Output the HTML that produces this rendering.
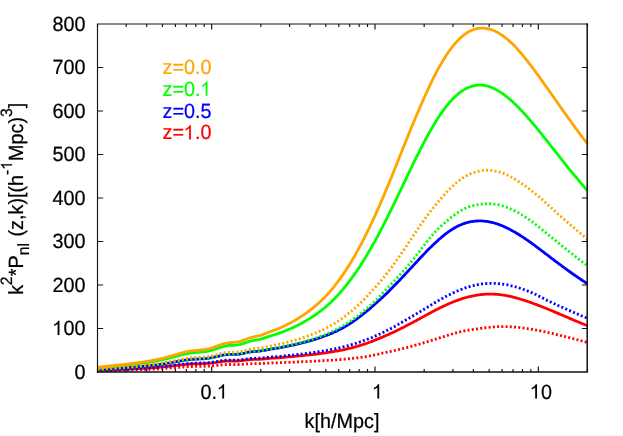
<!DOCTYPE html>
<html><head><meta charset="utf-8"><title>plot</title>
<style>html,body{margin:0;padding:0;background:#fff;overflow:hidden}svg{display:block;will-change:transform}text{text-rendering:geometricPrecision}</style>
</head><body>
<svg width="623" height="436" viewBox="0 0 623 436">
<rect width="100%" height="100%" fill="#fff"/>
<g fill="none" stroke-linejoin="round">
<path d="M97.50,370.50 L98.73,370.45 L99.96,370.40 L101.18,370.36 L102.41,370.31 L103.64,370.26 L104.87,370.21 L106.10,370.16 L107.32,370.11 L108.55,370.06 L109.78,370.01 L111.01,369.96 L112.24,369.91 L113.46,369.85 L114.69,369.80 L115.92,369.75 L117.15,369.69 L118.38,369.64 L119.61,369.58 L120.83,369.53 L122.06,369.47 L123.29,369.41 L124.52,369.36 L125.75,369.30 L126.97,369.24 L128.20,369.19 L129.43,369.13 L130.66,369.07 L131.89,369.01 L133.11,368.95 L134.34,368.88 L135.57,368.82 L136.80,368.76 L138.03,368.69 L139.25,368.63 L140.48,368.56 L141.71,368.49 L142.94,368.42 L144.17,368.35 L145.39,368.27 L146.62,368.20 L147.85,368.12 L149.08,368.04 L150.31,367.96 L151.54,367.87 L152.76,367.78 L153.99,367.69 L155.22,367.60 L156.45,367.50 L157.68,367.40 L158.90,367.30 L160.13,367.19 L161.36,367.08 L162.59,366.96 L163.82,366.85 L165.04,366.72 L166.27,366.60 L167.50,366.47 L168.73,366.34 L169.96,366.20 L171.18,366.06 L172.41,365.92 L173.64,365.78 L174.87,365.64 L176.10,365.49 L177.32,365.35 L178.55,365.21 L179.78,365.07 L181.01,364.94 L182.24,364.81 L183.46,364.68 L184.69,364.56 L185.92,364.45 L187.15,364.34 L188.38,364.25 L189.61,364.16 L190.83,364.09 L192.06,364.02 L193.29,363.96 L194.52,363.91 L195.75,363.86 L196.97,363.83 L198.20,363.79 L199.43,363.76 L200.66,363.72 L201.89,363.69 L203.11,363.65 L204.34,363.60 L205.57,363.53 L206.80,363.46 L208.03,363.37 L209.25,363.27 L210.48,363.15 L211.71,363.02 L212.94,362.86 L214.17,362.70 L215.39,362.52 L216.62,362.33 L217.85,362.14 L219.08,361.95 L220.31,361.77 L221.54,361.59 L222.76,361.43 L223.99,361.30 L225.22,361.18 L226.45,361.10 L227.68,361.04 L228.90,361.00 L230.13,360.99 L231.36,361.00 L232.59,361.01 L233.82,361.03 L235.04,361.03 L236.27,361.02 L237.50,360.99 L238.73,360.93 L239.96,360.84 L241.18,360.72 L242.41,360.58 L243.64,360.43 L244.87,360.26 L246.10,360.09 L247.32,359.93 L248.55,359.79 L249.78,359.66 L251.01,359.56 L252.24,359.49 L253.46,359.44 L254.69,359.41 L255.92,359.38 L257.15,359.35 L258.38,359.32 L259.61,359.26 L260.83,359.19 L262.06,359.10 L263.29,358.99 L264.52,358.87 L265.75,358.75 L266.97,358.62 L268.20,358.50 L269.43,358.39 L270.66,358.29 L271.89,358.21 L273.11,358.13 L274.34,358.05 L275.57,357.98 L276.80,357.91 L278.03,357.83 L279.25,357.74 L280.48,357.64 L281.71,357.53 L282.94,357.41 L284.17,357.29 L285.39,357.17 L286.62,357.06 L287.85,356.96 L289.08,356.86 L290.31,356.76 L291.54,356.67 L292.76,356.56 L293.99,356.46 L295.22,356.34 L296.45,356.22 L297.68,356.09 L298.90,355.96 L300.13,355.83 L301.36,355.71 L302.59,355.59 L303.82,355.46 L305.04,355.34 L306.27,355.21 L307.50,355.08 L308.73,354.95 L309.96,354.81 L311.18,354.66 L312.41,354.52 L313.64,354.38 L314.87,354.24 L316.10,354.10 L317.32,353.95 L318.55,353.79 L319.78,353.63 L321.01,353.47 L322.24,353.30 L323.46,353.14 L324.69,352.97 L325.92,352.79 L327.15,352.61 L328.38,352.43 L329.61,352.24 L330.83,352.04 L332.06,351.85 L333.29,351.65 L334.52,351.44 L335.75,351.23 L336.97,351.00 L338.20,350.77 L339.43,350.53 L340.66,350.29 L341.89,350.04 L343.11,349.79 L344.34,349.53 L345.57,349.26 L346.80,348.99 L348.03,348.71 L349.25,348.43 L350.48,348.14 L351.71,347.83 L352.94,347.52 L354.17,347.20 L355.39,346.86 L356.62,346.51 L357.85,346.16 L359.08,345.79 L360.31,345.41 L361.54,345.03 L362.76,344.63 L363.99,344.22 L365.22,343.81 L366.45,343.38 L367.68,342.95 L368.90,342.50 L370.13,342.05 L371.36,341.59 L372.59,341.12 L373.82,340.65 L375.04,340.16 L376.27,339.67 L377.50,339.17 L378.73,338.67 L379.96,338.16 L381.18,337.64 L382.41,337.12 L383.64,336.59 L384.87,336.06 L386.10,335.52 L387.32,334.98 L388.55,334.43 L389.78,333.88 L391.01,333.32 L392.24,332.76 L393.46,332.19 L394.69,331.61 L395.92,331.02 L397.15,330.43 L398.38,329.83 L399.61,329.23 L400.83,328.62 L402.06,328.00 L403.29,327.38 L404.52,326.75 L405.75,326.12 L406.97,325.48 L408.20,324.84 L409.43,324.19 L410.66,323.54 L411.89,322.88 L413.11,322.23 L414.34,321.57 L415.57,320.90 L416.80,320.24 L418.03,319.57 L419.25,318.90 L420.48,318.23 L421.71,317.56 L422.94,316.89 L424.17,316.22 L425.39,315.55 L426.62,314.89 L427.85,314.22 L429.08,313.56 L430.31,312.90 L431.54,312.24 L432.76,311.59 L433.99,310.95 L435.22,310.31 L436.45,309.68 L437.68,309.05 L438.90,308.44 L440.13,307.83 L441.36,307.23 L442.59,306.63 L443.82,306.05 L445.04,305.48 L446.27,304.91 L447.50,304.36 L448.73,303.82 L449.96,303.29 L451.18,302.77 L452.41,302.26 L453.64,301.76 L454.87,301.28 L456.10,300.81 L457.32,300.36 L458.55,299.91 L459.78,299.49 L461.01,299.07 L462.24,298.68 L463.46,298.29 L464.69,297.92 L465.92,297.57 L467.15,297.24 L468.38,296.92 L469.61,296.61 L470.83,296.32 L472.06,296.05 L473.29,295.80 L474.52,295.56 L475.75,295.35 L476.97,295.14 L478.20,294.96 L479.43,294.79 L480.66,294.64 L481.89,294.51 L483.11,294.39 L484.34,294.29 L485.57,294.21 L486.80,294.15 L488.03,294.11 L489.25,294.09 L490.48,294.09 L491.71,294.10 L492.94,294.13 L494.17,294.19 L495.39,294.26 L496.62,294.34 L497.85,294.45 L499.08,294.57 L500.31,294.71 L501.54,294.87 L502.76,295.04 L503.99,295.23 L505.22,295.43 L506.45,295.65 L507.68,295.89 L508.90,296.14 L510.13,296.40 L511.36,296.68 L512.59,296.97 L513.82,297.27 L515.04,297.59 L516.27,297.91 L517.50,298.25 L518.73,298.60 L519.96,298.97 L521.18,299.34 L522.41,299.72 L523.64,300.11 L524.87,300.51 L526.10,300.92 L527.32,301.33 L528.55,301.76 L529.78,302.19 L531.01,302.62 L532.24,303.07 L533.46,303.52 L534.69,303.97 L535.92,304.43 L537.15,304.90 L538.38,305.37 L539.61,305.84 L540.83,306.32 L542.06,306.81 L543.29,307.30 L544.52,307.79 L545.75,308.28 L546.97,308.78 L548.20,309.28 L549.43,309.79 L550.66,310.30 L551.89,310.81 L553.11,311.32 L554.34,311.84 L555.57,312.35 L556.80,312.87 L558.03,313.39 L559.25,313.91 L560.48,314.44 L561.71,314.96 L562.94,315.48 L564.17,316.01 L565.39,316.53 L566.62,317.05 L567.85,317.58 L569.08,318.10 L570.31,318.62 L571.54,319.15 L572.76,319.67 L573.99,320.19 L575.22,320.70 L576.45,321.22 L577.68,321.74 L578.90,322.25 L580.13,322.76 L581.36,323.27 L582.59,323.78 L583.82,324.29 L585.04,324.79 L586.27,325.29 L587.50,325.79" stroke="#ff0000" stroke-width="2.8"/>
<path d="M97.50,370.97 L98.73,370.94 L99.96,370.91 L101.18,370.88 L102.41,370.85 L103.64,370.81 L104.87,370.78 L106.10,370.75 L107.32,370.71 L108.55,370.68 L109.78,370.64 L111.01,370.61 L112.24,370.57 L113.46,370.54 L114.69,370.50 L115.92,370.46 L117.15,370.43 L118.38,370.39 L119.61,370.35 L120.83,370.31 L122.06,370.27 L123.29,370.24 L124.52,370.20 L125.75,370.16 L126.97,370.12 L128.20,370.08 L129.43,370.04 L130.66,370.00 L131.89,369.96 L133.11,369.92 L134.34,369.87 L135.57,369.83 L136.80,369.79 L138.03,369.74 L139.25,369.70 L140.48,369.65 L141.71,369.60 L142.94,369.56 L144.17,369.51 L145.39,369.46 L146.62,369.40 L147.85,369.35 L149.08,369.30 L150.31,369.24 L151.54,369.18 L152.76,369.12 L153.99,369.06 L155.22,368.99 L156.45,368.93 L157.68,368.86 L158.90,368.79 L160.13,368.71 L161.36,368.64 L162.59,368.56 L163.82,368.48 L165.04,368.39 L166.27,368.31 L167.50,368.22 L168.73,368.13 L169.96,368.04 L171.18,367.94 L172.41,367.85 L173.64,367.75 L174.87,367.65 L176.10,367.55 L177.32,367.45 L178.55,367.36 L179.78,367.26 L181.01,367.17 L182.24,367.08 L183.46,366.99 L184.69,366.91 L185.92,366.83 L187.15,366.76 L188.38,366.70 L189.61,366.64 L190.83,366.59 L192.06,366.54 L193.29,366.50 L194.52,366.47 L195.75,366.44 L196.97,366.41 L198.20,366.39 L199.43,366.37 L200.66,366.35 L201.89,366.32 L203.11,366.30 L204.34,366.26 L205.57,366.22 L206.80,366.17 L208.03,366.12 L209.25,366.05 L210.48,365.97 L211.71,365.87 L212.94,365.77 L214.17,365.66 L215.39,365.54 L216.62,365.41 L217.85,365.28 L219.08,365.15 L220.31,365.02 L221.54,364.91 L222.76,364.80 L223.99,364.71 L225.22,364.63 L226.45,364.58 L227.68,364.54 L228.90,364.52 L230.13,364.52 L231.36,364.53 L232.59,364.54 L233.82,364.56 L235.04,364.57 L236.27,364.57 L237.50,364.56 L238.73,364.52 L239.96,364.47 L241.18,364.39 L242.41,364.30 L243.64,364.20 L244.87,364.09 L246.10,363.98 L247.32,363.88 L248.55,363.78 L249.78,363.71 L251.01,363.65 L252.24,363.61 L253.46,363.58 L254.69,363.57 L255.92,363.57 L257.15,363.56 L258.38,363.55 L259.61,363.53 L260.83,363.49 L262.06,363.44 L263.29,363.38 L264.52,363.31 L265.75,363.23 L266.97,363.16 L268.20,363.09 L269.43,363.03 L270.66,362.98 L271.89,362.94 L273.11,362.90 L274.34,362.86 L275.57,362.83 L276.80,362.80 L278.03,362.77 L279.25,362.72 L280.48,362.67 L281.71,362.62 L282.94,362.56 L284.17,362.50 L285.39,362.44 L286.62,362.38 L287.85,362.33 L289.08,362.29 L290.31,362.25 L291.54,362.21 L292.76,362.16 L293.99,362.11 L295.22,362.06 L296.45,362.00 L297.68,361.94 L298.90,361.88 L300.13,361.83 L301.36,361.77 L302.59,361.72 L303.82,361.67 L305.04,361.61 L306.27,361.56 L307.50,361.50 L308.73,361.44 L309.96,361.38 L311.18,361.32 L312.41,361.26 L313.64,361.20 L314.87,361.14 L316.10,361.08 L317.32,361.02 L318.55,360.96 L319.78,360.89 L321.01,360.82 L322.24,360.75 L323.46,360.68 L324.69,360.61 L325.92,360.54 L327.15,360.47 L328.38,360.39 L329.61,360.31 L330.83,360.23 L332.06,360.15 L333.29,360.07 L334.52,359.99 L335.75,359.90 L336.97,359.80 L338.20,359.71 L339.43,359.61 L340.66,359.51 L341.89,359.40 L343.11,359.30 L344.34,359.19 L345.57,359.08 L346.80,358.96 L348.03,358.85 L349.25,358.72 L350.48,358.60 L351.71,358.47 L352.94,358.34 L354.17,358.21 L355.39,358.08 L356.62,357.94 L357.85,357.79 L359.08,357.65 L360.31,357.50 L361.54,357.33 L362.76,357.16 L363.99,356.97 L365.22,356.77 L366.45,356.56 L367.68,356.34 L368.90,356.11 L370.13,355.87 L371.36,355.62 L372.59,355.37 L373.82,355.10 L375.04,354.84 L376.27,354.57 L377.50,354.30 L378.73,354.02 L379.96,353.74 L381.18,353.46 L382.41,353.19 L383.64,352.91 L384.87,352.63 L386.10,352.36 L387.32,352.09 L388.55,351.82 L389.78,351.56 L391.01,351.31 L392.24,351.04 L393.46,350.78 L394.69,350.50 L395.92,350.23 L397.15,349.95 L398.38,349.66 L399.61,349.37 L400.83,349.08 L402.06,348.78 L403.29,348.48 L404.52,348.17 L405.75,347.86 L406.97,347.54 L408.20,347.22 L409.43,346.89 L410.66,346.56 L411.89,346.23 L413.11,345.89 L414.34,345.55 L415.57,345.20 L416.80,344.85 L418.03,344.50 L419.25,344.14 L420.48,343.78 L421.71,343.42 L422.94,343.05 L424.17,342.68 L425.39,342.31 L426.62,341.93 L427.85,341.56 L429.08,341.18 L430.31,340.79 L431.54,340.41 L432.76,340.02 L433.99,339.64 L435.22,339.25 L436.45,338.86 L437.68,338.47 L438.90,338.09 L440.13,337.70 L441.36,337.31 L442.59,336.92 L443.82,336.54 L445.04,336.15 L446.27,335.77 L447.50,335.39 L448.73,335.02 L449.96,334.64 L451.18,334.27 L452.41,333.90 L453.64,333.54 L454.87,333.18 L456.10,332.84 L457.32,332.52 L458.55,332.21 L459.78,331.92 L461.01,331.63 L462.24,331.37 L463.46,331.11 L464.69,330.87 L465.92,330.63 L467.15,330.41 L468.38,330.20 L469.61,329.99 L470.83,329.80 L472.06,329.60 L473.29,329.42 L474.52,329.24 L475.75,329.07 L476.97,328.90 L478.20,328.73 L479.43,328.57 L480.66,328.41 L481.89,328.24 L483.11,328.08 L484.34,327.92 L485.57,327.76 L486.80,327.61 L488.03,327.47 L489.25,327.33 L490.48,327.21 L491.71,327.09 L492.94,326.99 L494.17,326.89 L495.39,326.81 L496.62,326.73 L497.85,326.67 L499.08,326.62 L500.31,326.58 L501.54,326.56 L502.76,326.55 L503.99,326.55 L505.22,326.56 L506.45,326.59 L507.68,326.63 L508.90,326.68 L510.13,326.74 L511.36,326.81 L512.59,326.90 L513.82,326.99 L515.04,327.09 L516.27,327.21 L517.50,327.33 L518.73,327.46 L519.96,327.60 L521.18,327.75 L522.41,327.91 L523.64,328.07 L524.87,328.25 L526.10,328.42 L527.32,328.61 L528.55,328.80 L529.78,328.99 L531.01,329.19 L532.24,329.39 L533.46,329.60 L534.69,329.81 L535.92,330.03 L537.15,330.26 L538.38,330.49 L539.61,330.73 L540.83,330.97 L542.06,331.22 L543.29,331.48 L544.52,331.74 L545.75,332.00 L546.97,332.27 L548.20,332.55 L549.43,332.83 L550.66,333.11 L551.89,333.39 L553.11,333.69 L554.34,333.98 L555.57,334.28 L556.80,334.57 L558.03,334.88 L559.25,335.18 L560.48,335.49 L561.71,335.79 L562.94,336.10 L564.17,336.42 L565.39,336.73 L566.62,337.04 L567.85,337.36 L569.08,337.67 L570.31,337.99 L571.54,338.31 L572.76,338.62 L573.99,338.94 L575.22,339.26 L576.45,339.58 L577.68,339.89 L578.90,340.21 L580.13,340.53 L581.36,340.84 L582.59,341.16 L583.82,341.47 L585.04,341.78 L586.27,342.09 L587.50,342.40" stroke="#ff0000" stroke-width="2.8" stroke-dasharray="2 2.25"/>
<path d="M97.50,369.60 L98.73,369.53 L99.96,369.46 L101.18,369.38 L102.41,369.31 L103.64,369.23 L104.87,369.15 L106.10,369.07 L107.32,368.99 L108.55,368.91 L109.78,368.83 L111.01,368.75 L112.24,368.67 L113.46,368.58 L114.69,368.50 L115.92,368.41 L117.15,368.33 L118.38,368.24 L119.61,368.16 L120.83,368.07 L122.06,367.98 L123.29,367.89 L124.52,367.80 L125.75,367.71 L126.97,367.62 L128.20,367.53 L129.43,367.43 L130.66,367.34 L131.89,367.24 L133.11,367.15 L134.34,367.05 L135.57,366.95 L136.80,366.85 L138.03,366.75 L139.25,366.64 L140.48,366.54 L141.71,366.43 L142.94,366.32 L144.17,366.20 L145.39,366.08 L146.62,365.96 L147.85,365.84 L149.08,365.71 L150.31,365.58 L151.54,365.45 L152.76,365.31 L153.99,365.17 L155.22,365.02 L156.45,364.86 L157.68,364.70 L158.90,364.54 L160.13,364.37 L161.36,364.20 L162.59,364.01 L163.82,363.83 L165.04,363.63 L166.27,363.44 L167.50,363.23 L168.73,363.02 L169.96,362.81 L171.18,362.59 L172.41,362.37 L173.64,362.15 L174.87,361.93 L176.10,361.70 L177.32,361.48 L178.55,361.25 L179.78,361.04 L181.01,360.82 L182.24,360.62 L183.46,360.42 L184.69,360.23 L185.92,360.05 L187.15,359.89 L188.38,359.74 L189.61,359.60 L190.83,359.48 L192.06,359.37 L193.29,359.27 L194.52,359.19 L195.75,359.12 L196.97,359.05 L198.20,358.99 L199.43,358.93 L200.66,358.87 L201.89,358.81 L203.11,358.73 L204.34,358.65 L205.57,358.55 L206.80,358.42 L208.03,358.28 L209.25,358.11 L210.48,357.92 L211.71,357.70 L212.94,357.46 L214.17,357.20 L215.39,356.92 L216.62,356.62 L217.85,356.32 L219.08,356.02 L220.31,355.73 L221.54,355.45 L222.76,355.20 L223.99,354.98 L225.22,354.80 L226.45,354.65 L227.68,354.54 L228.90,354.47 L230.13,354.43 L231.36,354.42 L232.59,354.41 L233.82,354.41 L235.04,354.39 L236.27,354.35 L237.50,354.27 L238.73,354.15 L239.96,353.99 L241.18,353.79 L242.41,353.55 L243.64,353.29 L244.87,353.02 L246.10,352.74 L247.32,352.47 L248.55,352.22 L249.78,352.01 L251.01,351.82 L252.24,351.68 L253.46,351.56 L254.69,351.46 L255.92,351.38 L257.15,351.29 L258.38,351.18 L259.61,351.05 L260.83,350.89 L262.06,350.70 L263.29,350.49 L264.52,350.27 L265.75,350.03 L266.97,349.79 L268.20,349.56 L269.43,349.34 L270.66,349.13 L271.89,348.93 L273.11,348.75 L274.34,348.57 L275.57,348.39 L276.80,348.21 L278.03,348.01 L279.25,347.81 L280.48,347.58 L281.71,347.34 L282.94,347.09 L284.17,346.84 L285.39,346.58 L286.62,346.33 L287.85,346.08 L289.08,345.84 L290.31,345.60 L291.54,345.36 L292.76,345.10 L293.99,344.84 L295.22,344.56 L296.45,344.27 L297.68,343.97 L298.90,343.66 L300.13,343.36 L301.36,343.05 L302.59,342.74 L303.82,342.43 L305.04,342.11 L306.27,341.79 L307.50,341.47 L308.73,341.13 L309.96,340.78 L311.18,340.43 L312.41,340.07 L313.64,339.71 L314.87,339.34 L316.10,338.96 L317.32,338.57 L318.55,338.17 L319.78,337.76 L321.01,337.33 L322.24,336.90 L323.46,336.47 L324.69,336.02 L325.92,335.56 L327.15,335.09 L328.38,334.61 L329.61,334.11 L330.83,333.61 L332.06,333.09 L333.29,332.56 L334.52,332.02 L335.75,331.46 L336.97,330.87 L338.20,330.27 L339.43,329.66 L340.66,329.04 L341.89,328.39 L343.11,327.72 L344.34,327.03 L345.57,326.32 L346.80,325.59 L348.03,324.84 L349.25,324.06 L350.48,323.27 L351.71,322.46 L352.94,321.63 L354.17,320.79 L355.39,319.92 L356.62,319.04 L357.85,318.14 L359.08,317.23 L360.31,316.29 L361.54,315.35 L362.76,314.39 L363.99,313.41 L365.22,312.42 L366.45,311.41 L367.68,310.40 L368.90,309.37 L370.13,308.33 L371.36,307.27 L372.59,306.21 L373.82,305.14 L375.04,304.06 L376.27,302.96 L377.50,301.87 L378.73,300.76 L379.96,299.65 L381.18,298.52 L382.41,297.39 L383.64,296.24 L384.87,295.07 L386.10,293.90 L387.32,292.71 L388.55,291.51 L389.78,290.29 L391.01,289.07 L392.24,287.83 L393.46,286.58 L394.69,285.33 L395.92,284.06 L397.15,282.78 L398.38,281.50 L399.61,280.21 L400.83,278.91 L402.06,277.60 L403.29,276.29 L404.52,274.97 L405.75,273.65 L406.97,272.33 L408.20,271.00 L409.43,269.67 L410.66,268.34 L411.89,267.01 L413.11,265.68 L414.34,264.35 L415.57,263.02 L416.80,261.70 L418.03,260.38 L419.25,259.06 L420.48,257.75 L421.71,256.45 L422.94,255.16 L424.17,253.87 L425.39,252.60 L426.62,251.34 L427.85,250.09 L429.08,248.85 L430.31,247.63 L431.54,246.42 L432.76,245.23 L433.99,244.05 L435.22,242.90 L436.45,241.76 L437.68,240.64 L438.90,239.55 L440.13,238.48 L441.36,237.43 L442.59,236.40 L443.82,235.40 L445.04,234.43 L446.27,233.48 L447.50,232.56 L448.73,231.67 L449.96,230.80 L451.18,229.97 L452.41,229.18 L453.64,228.43 L454.87,227.71 L456.10,227.03 L457.32,226.38 L458.55,225.78 L459.78,225.21 L461.01,224.68 L462.24,224.18 L463.46,223.73 L464.69,223.31 L465.92,222.92 L467.15,222.57 L468.38,222.26 L469.61,221.98 L470.83,221.73 L472.06,221.52 L473.29,221.34 L474.52,221.20 L475.75,221.09 L476.97,221.00 L478.20,220.95 L479.43,220.93 L480.66,220.93 L481.89,220.97 L483.11,221.04 L484.34,221.14 L485.57,221.28 L486.80,221.44 L488.03,221.63 L489.25,221.85 L490.48,222.10 L491.71,222.38 L492.94,222.69 L494.17,223.02 L495.39,223.38 L496.62,223.77 L497.85,224.18 L499.08,224.62 L500.31,225.08 L501.54,225.57 L502.76,226.08 L503.99,226.61 L505.22,227.16 L506.45,227.74 L507.68,228.33 L508.90,228.95 L510.13,229.58 L511.36,230.24 L512.59,230.91 L513.82,231.60 L515.04,232.30 L516.27,233.03 L517.50,233.76 L518.73,234.52 L519.96,235.28 L521.18,236.06 L522.41,236.86 L523.64,237.66 L524.87,238.48 L526.10,239.31 L527.32,240.16 L528.55,241.02 L529.78,241.89 L531.01,242.76 L532.24,243.65 L533.46,244.55 L534.69,245.45 L535.92,246.36 L537.15,247.28 L538.38,248.20 L539.61,249.13 L540.83,250.06 L542.06,251.00 L543.29,251.93 L544.52,252.87 L545.75,253.82 L546.97,254.76 L548.20,255.70 L549.43,256.64 L550.66,257.58 L551.89,258.52 L553.11,259.46 L554.34,260.39 L555.57,261.32 L556.80,262.24 L558.03,263.16 L559.25,264.08 L560.48,264.99 L561.71,265.90 L562.94,266.80 L564.17,267.70 L565.39,268.59 L566.62,269.48 L567.85,270.37 L569.08,271.25 L570.31,272.13 L571.54,273.00 L572.76,273.87 L573.99,274.73 L575.22,275.59 L576.45,276.44 L577.68,277.28 L578.90,278.12 L580.13,278.95 L581.36,279.77 L582.59,280.59 L583.82,281.40 L585.04,282.21 L586.27,283.01 L587.50,283.80" stroke="#0000ff" stroke-width="2.8"/>
<path d="M97.50,370.37 L98.73,370.32 L99.96,370.27 L101.18,370.21 L102.41,370.16 L103.64,370.11 L104.87,370.06 L106.10,370.00 L107.32,369.95 L108.55,369.89 L109.78,369.84 L111.01,369.78 L112.24,369.72 L113.46,369.67 L114.69,369.61 L115.92,369.55 L117.15,369.49 L118.38,369.43 L119.61,369.37 L120.83,369.31 L122.06,369.25 L123.29,369.19 L124.52,369.13 L125.75,369.07 L126.97,369.01 L128.20,368.94 L129.43,368.88 L130.66,368.81 L131.89,368.75 L133.11,368.68 L134.34,368.62 L135.57,368.55 L136.80,368.48 L138.03,368.41 L139.25,368.34 L140.48,368.26 L141.71,368.19 L142.94,368.11 L144.17,368.03 L145.39,367.95 L146.62,367.87 L147.85,367.79 L149.08,367.70 L150.31,367.61 L151.54,367.52 L152.76,367.42 L153.99,367.32 L155.22,367.22 L156.45,367.12 L157.68,367.01 L158.90,366.90 L160.13,366.78 L161.36,366.66 L162.59,366.53 L163.82,366.40 L165.04,366.27 L166.27,366.14 L167.50,366.00 L168.73,365.85 L169.96,365.71 L171.18,365.56 L172.41,365.40 L173.64,365.25 L174.87,365.09 L176.10,364.94 L177.32,364.78 L178.55,364.63 L179.78,364.48 L181.01,364.33 L182.24,364.19 L183.46,364.06 L184.69,363.93 L185.92,363.81 L187.15,363.69 L188.38,363.59 L189.61,363.50 L190.83,363.41 L192.06,363.34 L193.29,363.27 L194.52,363.22 L195.75,363.17 L196.97,363.13 L198.20,363.09 L199.43,363.06 L200.66,363.02 L201.89,362.98 L203.11,362.93 L204.34,362.88 L205.57,362.81 L206.80,362.73 L208.03,362.64 L209.25,362.53 L210.48,362.40 L211.71,362.25 L212.94,362.08 L214.17,361.90 L215.39,361.71 L216.62,361.51 L217.85,361.30 L219.08,361.09 L220.31,360.89 L221.54,360.70 L222.76,360.53 L223.99,360.38 L225.22,360.26 L226.45,360.17 L227.68,360.10 L228.90,360.06 L230.13,360.05 L231.36,360.05 L232.59,360.07 L233.82,360.08 L235.04,360.09 L236.27,360.07 L237.50,360.04 L238.73,359.97 L239.96,359.87 L241.18,359.74 L242.41,359.59 L243.64,359.42 L244.87,359.24 L246.10,359.05 L247.32,358.88 L248.55,358.72 L249.78,358.58 L251.01,358.47 L252.24,358.39 L253.46,358.33 L254.69,358.29 L255.92,358.26 L257.15,358.23 L258.38,358.18 L259.61,358.12 L260.83,358.04 L262.06,357.93 L263.29,357.81 L264.52,357.68 L265.75,357.54 L266.97,357.40 L268.20,357.27 L269.43,357.15 L270.66,357.03 L271.89,356.93 L273.11,356.84 L274.34,356.75 L275.57,356.67 L276.80,356.58 L278.03,356.49 L279.25,356.39 L280.48,356.27 L281.71,356.15 L282.94,356.01 L284.17,355.88 L285.39,355.74 L286.62,355.62 L287.85,355.50 L289.08,355.38 L290.31,355.27 L291.54,355.15 L292.76,355.03 L293.99,354.91 L295.22,354.77 L296.45,354.63 L297.68,354.48 L298.90,354.33 L300.13,354.18 L301.36,354.03 L302.59,353.89 L303.82,353.74 L305.04,353.59 L306.27,353.44 L307.50,353.29 L308.73,353.13 L309.96,352.96 L311.18,352.80 L312.41,352.63 L313.64,352.46 L314.87,352.30 L316.10,352.12 L317.32,351.94 L318.55,351.76 L319.78,351.57 L321.01,351.37 L322.24,351.17 L323.46,350.97 L324.69,350.77 L325.92,350.56 L327.15,350.35 L328.38,350.12 L329.61,349.90 L330.83,349.66 L332.06,349.43 L333.29,349.19 L334.52,348.94 L335.75,348.68 L336.97,348.40 L338.20,348.13 L339.43,347.84 L340.66,347.55 L341.89,347.25 L343.11,346.94 L344.34,346.63 L345.57,346.31 L346.80,345.98 L348.03,345.65 L349.25,345.30 L350.48,344.95 L351.71,344.59 L352.94,344.23 L354.17,343.85 L355.39,343.47 L356.62,343.08 L357.85,342.68 L359.08,342.27 L360.31,341.85 L361.54,341.43 L362.76,340.99 L363.99,340.55 L365.22,340.10 L366.45,339.63 L367.68,339.16 L368.90,338.68 L370.13,338.19 L371.36,337.69 L372.59,337.19 L373.82,336.67 L375.04,336.14 L376.27,335.61 L377.50,335.06 L378.73,334.50 L379.96,333.94 L381.18,333.37 L382.41,332.78 L383.64,332.19 L384.87,331.59 L386.10,330.97 L387.32,330.35 L388.55,329.72 L389.78,329.08 L391.01,328.43 L392.24,327.78 L393.46,327.11 L394.69,326.44 L395.92,325.75 L397.15,325.06 L398.38,324.36 L399.61,323.66 L400.83,322.94 L402.06,322.23 L403.29,321.52 L404.52,320.80 L405.75,320.09 L406.97,319.37 L408.20,318.65 L409.43,317.94 L410.66,317.22 L411.89,316.50 L413.11,315.78 L414.34,315.05 L415.57,314.33 L416.80,313.60 L418.03,312.87 L419.25,312.14 L420.48,311.41 L421.71,310.68 L422.94,309.94 L424.17,309.20 L425.39,308.46 L426.62,307.72 L427.85,306.98 L429.08,306.23 L430.31,305.49 L431.54,304.74 L432.76,304.00 L433.99,303.26 L435.22,302.52 L436.45,301.79 L437.68,301.07 L438.90,300.35 L440.13,299.64 L441.36,298.94 L442.59,298.25 L443.82,297.57 L445.04,296.90 L446.27,296.25 L447.50,295.61 L448.73,294.99 L449.96,294.38 L451.18,293.78 L452.41,293.20 L453.64,292.63 L454.87,292.07 L456.10,291.52 L457.32,290.98 L458.55,290.46 L459.78,289.95 L461.01,289.47 L462.24,288.99 L463.46,288.54 L464.69,288.10 L465.92,287.68 L467.15,287.28 L468.38,286.90 L469.61,286.54 L470.83,286.20 L472.06,285.87 L473.29,285.57 L474.52,285.28 L475.75,285.01 L476.97,284.77 L478.20,284.54 L479.43,284.33 L480.66,284.14 L481.89,283.97 L483.11,283.82 L484.34,283.69 L485.57,283.58 L486.80,283.49 L488.03,283.42 L489.25,283.37 L490.48,283.34 L491.71,283.33 L492.94,283.34 L494.17,283.37 L495.39,283.42 L496.62,283.49 L497.85,283.58 L499.08,283.69 L500.31,283.82 L501.54,283.97 L502.76,284.13 L503.99,284.31 L505.22,284.51 L506.45,284.73 L507.68,284.97 L508.90,285.22 L510.13,285.49 L511.36,285.78 L512.59,286.08 L513.82,286.40 L515.04,286.74 L516.27,287.09 L517.50,287.45 L518.73,287.84 L519.96,288.23 L521.18,288.64 L522.41,289.06 L523.64,289.50 L524.87,289.95 L526.10,290.41 L527.32,290.88 L528.55,291.37 L529.78,291.87 L531.01,292.38 L532.24,292.90 L533.46,293.43 L534.69,293.97 L535.92,294.55 L537.15,295.15 L538.38,295.77 L539.61,296.40 L540.83,297.05 L542.06,297.71 L543.29,298.36 L544.52,299.02 L545.75,299.66 L546.97,300.30 L548.20,300.91 L549.43,301.51 L550.66,302.08 L551.89,302.64 L553.11,303.20 L554.34,303.76 L555.57,304.32 L556.80,304.88 L558.03,305.43 L559.25,305.98 L560.48,306.53 L561.71,307.07 L562.94,307.62 L564.17,308.16 L565.39,308.71 L566.62,309.25 L567.85,309.80 L569.08,310.34 L570.31,310.89 L571.54,311.43 L572.76,311.98 L573.99,312.52 L575.22,313.06 L576.45,313.60 L577.68,314.13 L578.90,314.66 L580.13,315.18 L581.36,315.71 L582.59,316.23 L583.82,316.74 L585.04,317.26 L586.27,317.77 L587.50,318.27" stroke="#0000ff" stroke-width="2.8" stroke-dasharray="2 2.25"/>
<path d="M97.50,368.10 L98.73,367.99 L99.96,367.88 L101.18,367.76 L102.41,367.65 L103.64,367.53 L104.87,367.41 L106.10,367.29 L107.32,367.17 L108.55,367.05 L109.78,366.92 L111.01,366.80 L112.24,366.67 L113.46,366.54 L114.69,366.42 L115.92,366.29 L117.15,366.16 L118.38,366.03 L119.61,365.89 L120.83,365.76 L122.06,365.63 L123.29,365.49 L124.52,365.36 L125.75,365.22 L126.97,365.08 L128.20,364.94 L129.43,364.80 L130.66,364.66 L131.89,364.52 L133.11,364.37 L134.34,364.23 L135.57,364.08 L136.80,363.92 L138.03,363.77 L139.25,363.61 L140.48,363.45 L141.71,363.29 L142.94,363.12 L144.17,362.95 L145.39,362.78 L146.62,362.60 L147.85,362.41 L149.08,362.22 L150.31,362.03 L151.54,361.82 L152.76,361.62 L153.99,361.40 L155.22,361.18 L156.45,360.95 L157.68,360.71 L158.90,360.47 L160.13,360.22 L161.36,359.96 L162.59,359.69 L163.82,359.41 L165.04,359.13 L166.27,358.83 L167.50,358.53 L168.73,358.22 L169.96,357.91 L171.18,357.59 L172.41,357.26 L173.64,356.94 L174.87,356.61 L176.10,356.28 L177.32,355.95 L178.55,355.62 L179.78,355.30 L181.01,354.99 L182.24,354.69 L183.46,354.40 L184.69,354.12 L185.92,353.86 L187.15,353.62 L188.38,353.40 L189.61,353.20 L190.83,353.01 L192.06,352.85 L193.29,352.70 L194.52,352.57 L195.75,352.45 L196.97,352.35 L198.20,352.25 L199.43,352.15 L200.66,352.05 L201.89,351.95 L203.11,351.83 L204.34,351.69 L205.57,351.53 L206.80,351.34 L208.03,351.12 L209.25,350.86 L210.48,350.58 L211.71,350.25 L212.94,349.90 L214.17,349.51 L215.39,349.10 L216.62,348.68 L217.85,348.24 L219.08,347.81 L220.31,347.39 L221.54,346.99 L222.76,346.63 L223.99,346.30 L225.22,346.02 L226.45,345.80 L227.68,345.62 L228.90,345.49 L230.13,345.39 L231.36,345.33 L232.59,345.28 L233.82,345.23 L235.04,345.15 L236.27,345.04 L237.50,344.88 L238.73,344.66 L239.96,344.40 L241.18,344.07 L242.41,343.71 L243.64,343.31 L244.87,342.88 L246.10,342.46 L247.32,342.05 L248.55,341.66 L249.78,341.31 L251.01,341.00 L252.24,340.73 L253.46,340.49 L254.69,340.27 L255.92,340.06 L257.15,339.85 L258.38,339.61 L259.61,339.34 L260.83,339.03 L262.06,338.69 L263.29,338.31 L264.52,337.91 L265.75,337.50 L266.97,337.08 L268.20,336.67 L269.43,336.26 L270.66,335.87 L271.89,335.48 L273.11,335.11 L274.34,334.74 L275.57,334.37 L276.80,333.99 L278.03,333.59 L279.25,333.17 L280.48,332.72 L281.71,332.25 L282.94,331.77 L284.17,331.27 L285.39,330.77 L286.62,330.27 L287.85,329.76 L289.08,329.26 L290.31,328.74 L291.54,328.22 L292.76,327.68 L293.99,327.11 L295.22,326.53 L296.45,325.92 L297.68,325.30 L298.90,324.66 L300.13,324.02 L301.36,323.36 L302.59,322.69 L303.82,322.01 L305.04,321.31 L306.27,320.62 L307.50,319.91 L308.73,319.17 L309.96,318.41 L311.18,317.64 L312.41,316.85 L313.64,316.04 L314.87,315.22 L316.10,314.37 L317.32,313.50 L318.55,312.60 L319.78,311.68 L321.01,310.73 L322.24,309.77 L323.46,308.78 L324.69,307.77 L325.92,306.73 L327.15,305.66 L328.38,304.57 L329.61,303.45 L330.83,302.30 L332.06,301.13 L333.29,299.92 L334.52,298.69 L335.75,297.42 L336.97,296.12 L338.20,294.78 L339.43,293.42 L340.66,292.03 L341.89,290.60 L343.11,289.15 L344.34,287.67 L345.57,286.16 L346.80,284.62 L348.03,283.04 L349.25,281.44 L350.48,279.81 L351.71,278.15 L352.94,276.46 L354.17,274.73 L355.39,272.98 L356.62,271.20 L357.85,269.38 L359.08,267.54 L360.31,265.66 L361.54,263.76 L362.76,261.82 L363.99,259.86 L365.22,257.86 L366.45,255.84 L367.68,253.79 L368.90,251.71 L370.13,249.60 L371.36,247.46 L372.59,245.29 L373.82,243.10 L375.04,240.88 L376.27,238.64 L377.50,236.37 L378.73,234.07 L379.96,231.75 L381.18,229.41 L382.41,227.05 L383.64,224.66 L384.87,222.26 L386.10,219.83 L387.32,217.39 L388.55,214.92 L389.78,212.45 L391.01,209.95 L392.24,207.44 L393.46,204.92 L394.69,202.39 L395.92,199.85 L397.15,197.29 L398.38,194.73 L399.61,192.17 L400.83,189.60 L402.06,187.02 L403.29,184.45 L404.52,181.87 L405.75,179.30 L406.97,176.73 L408.20,174.16 L409.43,171.60 L410.66,169.05 L411.89,166.51 L413.11,163.98 L414.34,161.47 L415.57,158.97 L416.80,156.48 L418.03,154.02 L419.25,151.58 L420.48,149.16 L421.71,146.76 L422.94,144.39 L424.17,142.05 L425.39,139.74 L426.62,137.46 L427.85,135.21 L429.08,133.00 L430.31,130.82 L431.54,128.68 L432.76,126.58 L433.99,124.52 L435.22,122.50 L436.45,120.52 L437.68,118.59 L438.90,116.71 L440.13,114.87 L441.36,113.09 L442.59,111.35 L443.82,109.66 L445.04,108.02 L446.27,106.44 L447.50,104.91 L448.73,103.43 L449.96,102.01 L451.18,100.64 L452.41,99.33 L453.64,98.08 L454.87,96.88 L456.10,95.74 L457.32,94.66 L458.55,93.63 L459.78,92.67 L461.01,91.76 L462.24,90.91 L463.46,90.12 L464.69,89.39 L465.92,88.71 L467.15,88.10 L468.38,87.54 L469.61,87.04 L470.83,86.60 L472.06,86.21 L473.29,85.88 L474.52,85.61 L475.75,85.39 L476.97,85.23 L478.20,85.12 L479.43,85.07 L480.66,85.07 L481.89,85.13 L483.11,85.24 L484.34,85.41 L485.57,85.64 L486.80,85.92 L488.03,86.25 L489.25,86.64 L490.48,87.07 L491.71,87.55 L492.94,88.08 L494.17,88.65 L495.39,89.26 L496.62,89.92 L497.85,90.61 L499.08,91.35 L500.31,92.12 L501.54,92.92 L502.76,93.77 L503.99,94.65 L505.22,95.57 L506.45,96.52 L507.68,97.51 L508.90,98.53 L510.13,99.58 L511.36,100.67 L512.59,101.78 L513.82,102.92 L515.04,104.09 L516.27,105.28 L517.50,106.50 L518.73,107.75 L519.96,109.01 L521.18,110.31 L522.41,111.62 L523.64,112.95 L524.87,114.30 L526.10,115.67 L527.32,117.06 L528.55,118.46 L529.78,119.88 L531.01,121.31 L532.24,122.76 L533.46,124.22 L534.69,125.69 L535.92,127.17 L537.15,128.67 L538.38,130.17 L539.61,131.68 L540.83,133.20 L542.06,134.73 L543.29,136.26 L544.52,137.80 L545.75,139.34 L546.97,140.89 L548.20,142.44 L549.43,144.00 L550.66,145.55 L551.89,147.11 L553.11,148.67 L554.34,150.23 L555.57,151.80 L556.80,153.36 L558.03,154.91 L559.25,156.47 L560.48,158.03 L561.71,159.58 L562.94,161.13 L564.17,162.68 L565.39,164.22 L566.62,165.76 L567.85,167.28 L569.08,168.80 L570.31,170.32 L571.54,171.82 L572.76,173.31 L573.99,174.80 L575.22,176.27 L576.45,177.74 L577.68,179.20 L578.90,180.65 L580.13,182.10 L581.36,183.54 L582.59,184.97 L583.82,186.39 L585.04,187.81 L586.27,189.22 L587.50,190.62" stroke="#00ff00" stroke-width="2.8"/>
<path d="M97.50,369.54 L98.73,369.47 L99.96,369.39 L101.18,369.31 L102.41,369.24 L103.64,369.16 L104.87,369.08 L106.10,369.00 L107.32,368.92 L108.55,368.83 L109.78,368.75 L111.01,368.66 L112.24,368.58 L113.46,368.49 L114.69,368.41 L115.92,368.32 L117.15,368.23 L118.38,368.14 L119.61,368.05 L120.83,367.96 L122.06,367.87 L123.29,367.78 L124.52,367.69 L125.75,367.60 L126.97,367.50 L128.20,367.41 L129.43,367.31 L130.66,367.22 L131.89,367.12 L133.11,367.02 L134.34,366.92 L135.57,366.82 L136.80,366.72 L138.03,366.61 L139.25,366.50 L140.48,366.39 L141.71,366.28 L142.94,366.17 L144.17,366.05 L145.39,365.93 L146.62,365.81 L147.85,365.68 L149.08,365.55 L150.31,365.42 L151.54,365.28 L152.76,365.14 L153.99,364.99 L155.22,364.84 L156.45,364.68 L157.68,364.52 L158.90,364.35 L160.13,364.18 L161.36,364.00 L162.59,363.81 L163.82,363.62 L165.04,363.42 L166.27,363.22 L167.50,363.01 L168.73,362.80 L169.96,362.58 L171.18,362.36 L172.41,362.13 L173.64,361.90 L174.87,361.67 L176.10,361.44 L177.32,361.21 L178.55,360.99 L179.78,360.76 L181.01,360.55 L182.24,360.34 L183.46,360.13 L184.69,359.94 L185.92,359.76 L187.15,359.60 L188.38,359.44 L189.61,359.30 L190.83,359.18 L192.06,359.07 L193.29,358.97 L194.52,358.88 L195.75,358.81 L196.97,358.74 L198.20,358.68 L199.43,358.62 L200.66,358.56 L201.89,358.50 L203.11,358.42 L204.34,358.34 L205.57,358.23 L206.80,358.11 L208.03,357.96 L209.25,357.79 L210.48,357.60 L211.71,357.37 L212.94,357.13 L214.17,356.86 L215.39,356.57 L216.62,356.27 L217.85,355.97 L219.08,355.66 L220.31,355.37 L221.54,355.09 L222.76,354.83 L223.99,354.61 L225.22,354.42 L226.45,354.27 L227.68,354.16 L228.90,354.09 L230.13,354.05 L231.36,354.04 L232.59,354.04 L233.82,354.03 L235.04,354.02 L236.27,353.97 L237.50,353.89 L238.73,353.77 L239.96,353.61 L241.18,353.40 L242.41,353.16 L243.64,352.90 L244.87,352.62 L246.10,352.33 L247.32,352.06 L248.55,351.81 L249.78,351.59 L251.01,351.40 L252.24,351.25 L253.46,351.13 L254.69,351.03 L255.92,350.94 L257.15,350.85 L258.38,350.74 L259.61,350.61 L260.83,350.44 L262.06,350.25 L263.29,350.03 L264.52,349.80 L265.75,349.56 L266.97,349.31 L268.20,349.07 L269.43,348.84 L270.66,348.63 L271.89,348.42 L273.11,348.23 L274.34,348.05 L275.57,347.86 L276.80,347.67 L278.03,347.47 L279.25,347.25 L280.48,347.02 L281.71,346.77 L282.94,346.51 L284.17,346.24 L285.39,345.97 L286.62,345.71 L287.85,345.45 L289.08,345.20 L290.31,344.94 L291.54,344.69 L292.76,344.42 L293.99,344.14 L295.22,343.84 L296.45,343.53 L297.68,343.22 L298.90,342.90 L300.13,342.57 L301.36,342.25 L302.59,341.92 L303.82,341.58 L305.04,341.24 L306.27,340.90 L307.50,340.56 L308.73,340.19 L309.96,339.82 L311.18,339.45 L312.41,339.06 L313.64,338.68 L314.87,338.28 L316.10,337.87 L317.32,337.46 L318.55,337.02 L319.78,336.58 L321.01,336.12 L322.24,335.66 L323.46,335.19 L324.69,334.71 L325.92,334.21 L327.15,333.70 L328.38,333.18 L329.61,332.64 L330.83,332.09 L332.06,331.53 L333.29,330.95 L334.52,330.36 L335.75,329.75 L336.97,329.11 L338.20,328.45 L339.43,327.79 L340.66,327.10 L341.89,326.40 L343.11,325.69 L344.34,324.96 L345.57,324.21 L346.80,323.44 L348.03,322.66 L349.25,321.86 L350.48,321.05 L351.71,320.21 L352.94,319.36 L354.17,318.50 L355.39,317.61 L356.62,316.71 L357.85,315.79 L359.08,314.85 L360.31,313.89 L361.54,312.91 L362.76,311.92 L363.99,310.91 L365.22,309.87 L366.45,308.82 L367.68,307.75 L368.90,306.67 L370.13,305.56 L371.36,304.44 L372.59,303.29 L373.82,302.13 L375.04,300.95 L376.27,299.75 L377.50,298.53 L378.73,297.30 L379.96,296.04 L381.18,294.77 L382.41,293.48 L383.64,292.18 L384.87,290.85 L386.10,289.53 L387.32,288.21 L388.55,286.90 L389.78,285.60 L391.01,284.31 L392.24,283.01 L393.46,281.72 L394.69,280.42 L395.92,279.13 L397.15,277.82 L398.38,276.51 L399.61,275.18 L400.83,273.85 L402.06,272.50 L403.29,271.13 L404.52,269.74 L405.75,268.34 L406.97,266.91 L408.20,265.45 L409.43,263.97 L410.66,262.47 L411.89,260.93 L413.11,259.37 L414.34,257.81 L415.57,256.24 L416.80,254.66 L418.03,253.08 L419.25,251.50 L420.48,249.92 L421.71,248.35 L422.94,246.78 L424.17,245.21 L425.39,243.66 L426.62,242.11 L427.85,240.57 L429.08,239.05 L430.31,237.54 L431.54,236.05 L432.76,234.58 L433.99,233.17 L435.22,231.81 L436.45,230.51 L437.68,229.25 L438.90,228.03 L440.13,226.85 L441.36,225.71 L442.59,224.60 L443.82,223.51 L445.04,222.45 L446.27,221.42 L447.50,220.39 L448.73,219.39 L449.96,218.38 L451.18,217.40 L452.41,216.45 L453.64,215.52 L454.87,214.62 L456.10,213.76 L457.32,212.93 L458.55,212.13 L459.78,211.37 L461.01,210.64 L462.24,209.95 L463.46,209.29 L464.69,208.67 L465.92,208.09 L467.15,207.55 L468.38,207.05 L469.61,206.61 L470.83,206.21 L472.06,205.86 L473.29,205.55 L474.52,205.27 L475.75,205.03 L476.97,204.81 L478.20,204.62 L479.43,204.46 L480.66,204.31 L481.89,204.17 L483.11,204.05 L484.34,203.93 L485.57,203.84 L486.80,203.78 L488.03,203.75 L489.25,203.76 L490.48,203.80 L491.71,203.88 L492.94,203.98 L494.17,204.12 L495.39,204.29 L496.62,204.49 L497.85,204.73 L499.08,204.99 L500.31,205.28 L501.54,205.60 L502.76,205.96 L503.99,206.34 L505.22,206.75 L506.45,207.18 L507.68,207.65 L508.90,208.14 L510.13,208.66 L511.36,209.20 L512.59,209.77 L513.82,210.36 L515.04,210.98 L516.27,211.62 L517.50,212.29 L518.73,212.98 L519.96,213.69 L521.18,214.42 L522.41,215.17 L523.64,215.95 L524.87,216.74 L526.10,217.56 L527.32,218.40 L528.55,219.26 L529.78,220.14 L531.01,221.03 L532.24,221.94 L533.46,222.87 L534.69,223.81 L535.92,224.76 L537.15,225.72 L538.38,226.69 L539.61,227.66 L540.83,228.65 L542.06,229.64 L543.29,230.63 L544.52,231.63 L545.75,232.63 L546.97,233.63 L548.20,234.62 L549.43,235.62 L550.66,236.61 L551.89,237.60 L553.11,238.59 L554.34,239.59 L555.57,240.58 L556.80,241.58 L558.03,242.58 L559.25,243.58 L560.48,244.58 L561.71,245.58 L562.94,246.57 L564.17,247.57 L565.39,248.56 L566.62,249.55 L567.85,250.54 L569.08,251.53 L570.31,252.51 L571.54,253.48 L572.76,254.46 L573.99,255.43 L575.22,256.39 L576.45,257.35 L577.68,258.31 L578.90,259.25 L580.13,260.20 L581.36,261.13 L582.59,262.06 L583.82,262.98 L585.04,263.90 L586.27,264.80 L587.50,265.70" stroke="#00ff00" stroke-width="2.8" stroke-dasharray="2 2.25"/>
<path d="M97.50,367.21 L98.73,367.10 L99.96,366.99 L101.18,366.87 L102.41,366.75 L103.64,366.63 L104.87,366.51 L106.10,366.39 L107.32,366.26 L108.55,366.13 L109.78,366.01 L111.01,365.88 L112.24,365.75 L113.46,365.62 L114.69,365.48 L115.92,365.35 L117.15,365.21 L118.38,365.08 L119.61,364.94 L120.83,364.80 L122.06,364.66 L123.29,364.52 L124.52,364.38 L125.75,364.24 L126.97,364.09 L128.20,363.95 L129.43,363.80 L130.66,363.65 L131.89,363.50 L133.11,363.35 L134.34,363.19 L135.57,363.03 L136.80,362.87 L138.03,362.71 L139.25,362.54 L140.48,362.37 L141.71,362.20 L142.94,362.02 L144.17,361.84 L145.39,361.65 L146.62,361.46 L147.85,361.26 L149.08,361.05 L150.31,360.84 L151.54,360.62 L152.76,360.40 L153.99,360.17 L155.22,359.93 L156.45,359.68 L157.68,359.42 L158.90,359.16 L160.13,358.88 L161.36,358.60 L162.59,358.31 L163.82,358.00 L165.04,357.69 L166.27,357.37 L167.50,357.05 L168.73,356.71 L169.96,356.36 L171.18,356.02 L172.41,355.66 L173.64,355.30 L174.87,354.94 L176.10,354.58 L177.32,354.22 L178.55,353.86 L179.78,353.51 L181.01,353.17 L182.24,352.84 L183.46,352.53 L184.69,352.23 L185.92,351.94 L187.15,351.68 L188.38,351.43 L189.61,351.21 L190.83,351.01 L192.06,350.83 L193.29,350.66 L194.52,350.52 L195.75,350.39 L196.97,350.27 L198.20,350.16 L199.43,350.05 L200.66,349.94 L201.89,349.82 L203.11,349.68 L204.34,349.53 L205.57,349.35 L206.80,349.14 L208.03,348.90 L209.25,348.62 L210.48,348.30 L211.71,347.94 L212.94,347.56 L214.17,347.13 L215.39,346.69 L216.62,346.22 L217.85,345.75 L219.08,345.28 L220.31,344.82 L221.54,344.39 L222.76,343.99 L223.99,343.63 L225.22,343.33 L226.45,343.07 L227.68,342.87 L228.90,342.72 L230.13,342.61 L231.36,342.52 L232.59,342.45 L233.82,342.38 L235.04,342.28 L236.27,342.14 L237.50,341.95 L238.73,341.70 L239.96,341.39 L241.18,341.03 L242.41,340.62 L243.64,340.17 L244.87,339.71 L246.10,339.23 L247.32,338.77 L248.55,338.34 L249.78,337.94 L251.01,337.58 L252.24,337.27 L253.46,336.98 L254.69,336.72 L255.92,336.46 L257.15,336.19 L258.38,335.90 L259.61,335.58 L260.83,335.21 L262.06,334.80 L263.29,334.37 L264.52,333.90 L265.75,333.42 L266.97,332.94 L268.20,332.45 L269.43,331.97 L270.66,331.51 L271.89,331.04 L273.11,330.60 L274.34,330.16 L275.57,329.71 L276.80,329.24 L278.03,328.76 L279.25,328.25 L280.48,327.71 L281.71,327.16 L282.94,326.58 L284.17,325.99 L285.39,325.38 L286.62,324.78 L287.85,324.17 L289.08,323.55 L290.31,322.93 L291.54,322.29 L292.76,321.62 L293.99,320.94 L295.22,320.23 L296.45,319.50 L297.68,318.74 L298.90,317.97 L300.13,317.18 L301.36,316.38 L302.59,315.57 L303.82,314.73 L305.04,313.88 L306.27,313.03 L307.50,312.15 L308.73,311.25 L309.96,310.33 L311.18,309.38 L312.41,308.41 L313.64,307.41 L314.87,306.40 L316.10,305.35 L317.32,304.28 L318.55,303.18 L319.78,302.04 L321.01,300.88 L322.24,299.69 L323.46,298.48 L324.69,297.23 L325.92,295.95 L327.15,294.64 L328.38,293.29 L329.61,291.91 L330.83,290.50 L332.06,289.05 L333.29,287.57 L334.52,286.06 L335.75,284.50 L336.97,282.89 L338.20,281.26 L339.43,279.59 L340.66,277.88 L341.89,276.14 L343.11,274.36 L344.34,272.54 L345.57,270.69 L346.80,268.80 L348.03,266.88 L349.25,264.92 L350.48,262.93 L351.71,260.90 L352.94,258.83 L354.17,256.73 L355.39,254.58 L356.62,252.41 L357.85,250.20 L359.08,247.95 L360.31,245.66 L361.54,243.34 L362.76,240.98 L363.99,238.59 L365.22,236.17 L366.45,233.70 L367.68,231.21 L368.90,228.68 L370.13,226.12 L371.36,223.52 L372.59,220.89 L373.82,218.24 L375.04,215.55 L376.27,212.83 L377.50,210.08 L378.73,207.30 L379.96,204.49 L381.18,201.66 L382.41,198.81 L383.64,195.92 L384.87,193.02 L386.10,190.09 L387.32,187.14 L388.55,184.17 L389.78,181.19 L391.01,178.18 L392.24,175.16 L393.46,172.13 L394.69,169.08 L395.92,166.03 L397.15,162.96 L398.38,159.89 L399.61,156.81 L400.83,153.72 L402.06,150.65 L403.29,147.58 L404.52,144.52 L405.75,141.46 L406.97,138.42 L408.20,135.39 L409.43,132.38 L410.66,129.38 L411.89,126.39 L413.11,123.42 L414.34,120.48 L415.57,117.55 L416.80,114.64 L418.03,111.75 L419.25,108.90 L420.48,106.06 L421.71,103.25 L422.94,100.47 L424.17,97.72 L425.39,95.00 L426.62,92.32 L427.85,89.66 L429.08,87.04 L430.31,84.46 L431.54,81.91 L432.76,79.42 L433.99,76.96 L435.22,74.56 L436.45,72.21 L437.68,69.91 L438.90,67.66 L440.13,65.47 L441.36,63.33 L442.59,61.25 L443.82,59.22 L445.04,57.26 L446.27,55.35 L447.50,53.50 L448.73,51.72 L449.96,50.00 L451.18,48.34 L452.41,46.75 L453.64,45.22 L454.87,43.75 L456.10,42.35 L457.32,41.01 L458.55,39.74 L459.78,38.54 L461.01,37.40 L462.24,36.33 L463.46,35.33 L464.69,34.39 L465.92,33.52 L467.15,32.72 L468.38,31.98 L469.61,31.31 L470.83,30.70 L472.06,30.16 L473.29,29.68 L474.52,29.26 L475.75,28.91 L476.97,28.63 L478.20,28.40 L479.43,28.24 L480.66,28.14 L481.89,28.10 L483.11,28.11 L484.34,28.19 L485.57,28.32 L486.80,28.51 L488.03,28.75 L489.25,29.06 L490.48,29.41 L491.71,29.82 L492.94,30.27 L494.17,30.79 L495.39,31.35 L496.62,31.96 L497.85,32.62 L499.08,33.33 L500.31,34.08 L501.54,34.88 L502.76,35.73 L503.99,36.62 L505.22,37.56 L506.45,38.53 L507.68,39.56 L508.90,40.63 L510.13,41.74 L511.36,42.89 L512.59,44.08 L513.82,45.31 L515.04,46.58 L516.27,47.88 L517.50,49.22 L518.73,50.58 L519.96,51.98 L521.18,53.41 L522.41,54.87 L523.64,56.35 L524.87,57.86 L526.10,59.39 L527.32,60.94 L528.55,62.52 L529.78,64.11 L531.01,65.73 L532.24,67.36 L533.46,69.00 L534.69,70.66 L535.92,72.34 L537.15,74.02 L538.38,75.72 L539.61,77.43 L540.83,79.15 L542.06,80.87 L543.29,82.60 L544.52,84.33 L545.75,86.07 L546.97,87.81 L548.20,89.56 L549.43,91.30 L550.66,93.05 L551.89,94.79 L553.11,96.54 L554.34,98.29 L555.57,100.03 L556.80,101.78 L558.03,103.52 L559.25,105.26 L560.48,107.00 L561.71,108.74 L562.94,110.47 L564.17,112.20 L565.39,113.93 L566.62,115.65 L567.85,117.37 L569.08,119.08 L570.31,120.79 L571.54,122.49 L572.76,124.19 L573.99,125.88 L575.22,127.56 L576.45,129.24 L577.68,130.91 L578.90,132.58 L580.13,134.23 L581.36,135.88 L582.59,137.52 L583.82,139.16 L585.04,140.78 L586.27,142.40 L587.50,144.01" stroke="#ffa500" stroke-width="2.8"/>
<path d="M97.50,369.28 L98.73,369.19 L99.96,369.11 L101.18,369.03 L102.41,368.94 L103.64,368.85 L104.87,368.76 L106.10,368.67 L107.32,368.58 L108.55,368.49 L109.78,368.40 L111.01,368.31 L112.24,368.21 L113.46,368.12 L114.69,368.02 L115.92,367.92 L117.15,367.83 L118.38,367.73 L119.61,367.63 L120.83,367.53 L122.06,367.43 L123.29,367.33 L124.52,367.23 L125.75,367.13 L126.97,367.02 L128.20,366.92 L129.43,366.81 L130.66,366.71 L131.89,366.60 L133.11,366.49 L134.34,366.38 L135.57,366.26 L136.80,366.15 L138.03,366.03 L139.25,365.92 L140.48,365.79 L141.71,365.67 L142.94,365.55 L144.17,365.42 L145.39,365.28 L146.62,365.15 L147.85,365.01 L149.08,364.86 L150.31,364.72 L151.54,364.56 L152.76,364.41 L153.99,364.24 L155.22,364.08 L156.45,363.90 L157.68,363.72 L158.90,363.54 L160.13,363.35 L161.36,363.15 L162.59,362.94 L163.82,362.73 L165.04,362.51 L166.27,362.29 L167.50,362.06 L168.73,361.82 L169.96,361.58 L171.18,361.34 L172.41,361.09 L173.64,360.84 L174.87,360.59 L176.10,360.33 L177.32,360.08 L178.55,359.83 L179.78,359.59 L181.01,359.35 L182.24,359.11 L183.46,358.89 L184.69,358.68 L185.92,358.48 L187.15,358.30 L188.38,358.13 L189.61,357.97 L190.83,357.84 L192.06,357.71 L193.29,357.60 L194.52,357.51 L195.75,357.43 L196.97,357.35 L198.20,357.28 L199.43,357.22 L200.66,357.15 L201.89,357.08 L203.11,356.99 L204.34,356.90 L205.57,356.78 L206.80,356.64 L208.03,356.48 L209.25,356.29 L210.48,356.07 L211.71,355.83 L212.94,355.56 L214.17,355.26 L215.39,354.95 L216.62,354.62 L217.85,354.28 L219.08,353.95 L220.31,353.62 L221.54,353.31 L222.76,353.03 L223.99,352.79 L225.22,352.58 L226.45,352.42 L227.68,352.29 L228.90,352.21 L230.13,352.16 L231.36,352.14 L232.59,352.13 L233.82,352.12 L235.04,352.09 L236.27,352.03 L237.50,351.94 L238.73,351.80 L239.96,351.62 L241.18,351.38 L242.41,351.12 L243.64,350.82 L244.87,350.51 L246.10,350.19 L247.32,349.89 L248.55,349.61 L249.78,349.36 L251.01,349.15 L252.24,348.97 L253.46,348.83 L254.69,348.71 L255.92,348.59 L257.15,348.48 L258.38,348.34 L259.61,348.18 L260.83,347.98 L262.06,347.76 L263.29,347.51 L264.52,347.24 L265.75,346.96 L266.97,346.68 L268.20,346.40 L269.43,346.13 L270.66,345.88 L271.89,345.63 L273.11,345.40 L274.34,345.18 L275.57,344.95 L276.80,344.72 L278.03,344.48 L279.25,344.21 L280.48,343.93 L281.71,343.64 L282.94,343.33 L284.17,343.01 L285.39,342.69 L286.62,342.38 L287.85,342.07 L289.08,341.76 L290.31,341.45 L291.54,341.13 L292.76,340.80 L293.99,340.46 L295.22,340.10 L296.45,339.73 L297.68,339.35 L298.90,338.96 L300.13,338.56 L301.36,338.16 L302.59,337.76 L303.82,337.35 L305.04,336.93 L306.27,336.52 L307.50,336.09 L308.73,335.64 L309.96,335.19 L311.18,334.73 L312.41,334.25 L313.64,333.77 L314.87,333.29 L316.10,332.78 L317.32,332.27 L318.55,331.73 L319.78,331.18 L321.01,330.62 L322.24,330.05 L323.46,329.46 L324.69,328.86 L325.92,328.25 L327.15,327.61 L328.38,326.96 L329.61,326.30 L330.83,325.62 L332.06,324.92 L333.29,324.20 L334.52,323.47 L335.75,322.71 L336.97,321.92 L338.20,321.11 L339.43,320.28 L340.66,319.43 L341.89,318.57 L343.11,317.68 L344.34,316.78 L345.57,315.85 L346.80,314.90 L348.03,313.94 L349.25,312.95 L350.48,311.94 L351.71,310.91 L352.94,309.86 L354.17,308.79 L355.39,307.70 L356.62,306.58 L357.85,305.44 L359.08,304.28 L360.31,303.10 L361.54,301.90 L362.76,300.67 L363.99,299.42 L365.22,298.15 L366.45,296.86 L367.68,295.54 L368.90,294.20 L370.13,292.84 L371.36,291.49 L372.59,290.16 L373.82,288.85 L375.04,287.53 L376.27,286.20 L377.50,284.86 L378.73,283.47 L379.96,282.05 L381.18,280.58 L382.41,279.09 L383.64,277.58 L384.87,276.04 L386.10,274.48 L387.32,272.90 L388.55,271.30 L389.78,269.67 L391.01,268.03 L392.24,266.37 L393.46,264.69 L394.69,263.00 L395.92,261.29 L397.15,259.56 L398.38,257.82 L399.61,256.06 L400.83,254.28 L402.06,252.49 L403.29,250.68 L404.52,248.86 L405.75,247.04 L406.97,245.21 L408.20,243.37 L409.43,241.52 L410.66,239.68 L411.89,237.84 L413.11,236.00 L414.34,234.16 L415.57,232.33 L416.80,230.51 L418.03,228.71 L419.25,226.92 L420.48,225.14 L421.71,223.38 L422.94,221.63 L424.17,219.90 L425.39,218.19 L426.62,216.49 L427.85,214.80 L429.08,213.14 L430.31,211.52 L431.54,209.94 L432.76,208.39 L433.99,206.86 L435.22,205.36 L436.45,203.87 L437.68,202.40 L438.90,200.94 L440.13,199.49 L441.36,198.04 L442.59,196.62 L443.82,195.22 L445.04,193.84 L446.27,192.50 L447.50,191.18 L448.73,189.90 L449.96,188.66 L451.18,187.46 L452.41,186.30 L453.64,185.17 L454.87,184.09 L456.10,183.04 L457.32,182.04 L458.55,181.07 L459.78,180.14 L461.01,179.26 L462.24,178.41 L463.46,177.61 L464.69,176.85 L465.92,176.12 L467.15,175.44 L468.38,174.80 L469.61,174.21 L470.83,173.66 L472.06,173.16 L473.29,172.70 L474.52,172.28 L475.75,171.91 L476.97,171.58 L478.20,171.28 L479.43,171.03 L480.66,170.81 L481.89,170.63 L483.11,170.48 L484.34,170.37 L485.57,170.29 L486.80,170.26 L488.03,170.26 L489.25,170.30 L490.48,170.38 L491.71,170.49 L492.94,170.64 L494.17,170.83 L495.39,171.06 L496.62,171.32 L497.85,171.62 L499.08,171.95 L500.31,172.32 L501.54,172.72 L502.76,173.16 L503.99,173.62 L505.22,174.12 L506.45,174.66 L507.68,175.23 L508.90,175.84 L510.13,176.48 L511.36,177.15 L512.59,177.85 L513.82,178.57 L515.04,179.31 L516.27,180.08 L517.50,180.86 L518.73,181.66 L519.96,182.47 L521.18,183.29 L522.41,184.12 L523.64,184.96 L524.87,185.80 L526.10,186.67 L527.32,187.55 L528.55,188.45 L529.78,189.37 L531.01,190.31 L532.24,191.27 L533.46,192.24 L534.69,193.23 L535.92,194.23 L537.15,195.24 L538.38,196.27 L539.61,197.31 L540.83,198.36 L542.06,199.43 L543.29,200.50 L544.52,201.59 L545.75,202.68 L546.97,203.79 L548.20,204.90 L549.43,206.02 L550.66,207.15 L551.89,208.28 L553.11,209.42 L554.34,210.57 L555.57,211.70 L556.80,212.83 L558.03,213.95 L559.25,215.06 L560.48,216.15 L561.71,217.24 L562.94,218.33 L564.17,219.40 L565.39,220.48 L566.62,221.54 L567.85,222.61 L569.08,223.67 L570.31,224.73 L571.54,225.78 L572.76,226.84 L573.99,227.90 L575.22,228.96 L576.45,230.01 L577.68,231.05 L578.90,232.08 L580.13,233.10 L581.36,234.11 L582.59,235.11 L583.82,236.10 L585.04,237.09 L586.27,238.06 L587.50,239.03" stroke="#ffa500" stroke-width="2.8" stroke-dasharray="2 2.25"/>
</g>
<g stroke="#111" stroke-width="1.15" fill="none">
<path d="M97.50,372.70 V23.50 M96.95,24.00 H588.00" stroke-width="1.15"/>
<path d="M96.95,372.00 H587.95 M587.20,372.70 V23.50" stroke-width="1.5"/>
<path d="M97.50,328.50 h5.60 M587.50,328.50 h-5.60 M97.50,285.00 h5.60 M587.50,285.00 h-5.60 M97.50,241.50 h5.60 M587.50,241.50 h-5.60 M97.50,198.00 h5.60 M587.50,198.00 h-5.60 M97.50,154.50 h5.60 M587.50,154.50 h-5.60 M97.50,111.00 h5.60 M587.50,111.00 h-5.60 M97.50,67.50 h5.60 M587.50,67.50 h-5.60 M97.50,372.00 v-2.90 M97.50,24.00 v2.90 M126.26,372.00 v-2.90 M126.26,24.00 v2.90 M146.67,372.00 v-2.90 M146.67,24.00 v2.90 M162.50,372.00 v-2.90 M162.50,24.00 v2.90 M175.43,372.00 v-2.90 M175.43,24.00 v2.90 M186.36,372.00 v-2.90 M186.36,24.00 v2.90 M195.84,372.00 v-2.90 M195.84,24.00 v2.90 M204.19,372.00 v-2.90 M204.19,24.00 v2.90 M211.67,372.00 v-5.60 M211.67,24.00 v5.60 M260.83,372.00 v-2.90 M260.83,24.00 v2.90 M289.59,372.00 v-2.90 M289.59,24.00 v2.90 M310.00,372.00 v-2.90 M310.00,24.00 v2.90 M325.83,372.00 v-2.90 M325.83,24.00 v2.90 M338.76,372.00 v-2.90 M338.76,24.00 v2.90 M349.70,372.00 v-2.90 M349.70,24.00 v2.90 M359.17,372.00 v-2.90 M359.17,24.00 v2.90 M367.52,372.00 v-2.90 M367.52,24.00 v2.90 M375.00,372.00 v-5.60 M375.00,24.00 v5.60 M424.17,372.00 v-2.90 M424.17,24.00 v2.90 M452.93,372.00 v-2.90 M452.93,24.00 v2.90 M473.33,372.00 v-2.90 M473.33,24.00 v2.90 M489.16,372.00 v-2.90 M489.16,24.00 v2.90 M502.10,372.00 v-2.90 M502.10,24.00 v2.90 M513.03,372.00 v-2.90 M513.03,24.00 v2.90 M522.50,372.00 v-2.90 M522.50,24.00 v2.90 M530.86,372.00 v-2.90 M530.86,24.00 v2.90 M538.33,372.00 v-5.60 M538.33,24.00 v5.60 M587.50,372.00 v-2.90 M587.50,24.00 v2.90"/>
</g>
<g font-family="Liberation Sans, sans-serif" stroke-width="0.22" stroke-linejoin="round">
<g transform="translate(85.50,378.50) scale(1,1.040)" fill="#000" stroke="#000"><text x="-11.01" y="0.00" font-size="19.80">0</text></g>
<g transform="translate(85.50,335.00) scale(1,1.040)" fill="#000" stroke="#000"><path d="M-26.09,0.00 L-27.83,0.00 L-27.83,-10.66 Q-28.46,-10.08 -29.48,-9.51 Q-30.50,-8.93 -31.31,-8.64 L-31.31,-10.26 Q-29.85,-10.92 -28.76,-11.86 Q-27.67,-12.80 -27.22,-13.68 L-26.09,-13.68 Z" stroke-width="0.1"/><text x="-22.02 -11.01" y="0.00" font-size="19.80">00</text></g>
<g transform="translate(85.50,291.50) scale(1,1.040)" fill="#000" stroke="#000"><text x="-33.04 -22.02 -11.01" y="0.00" font-size="19.80">200</text></g>
<g transform="translate(85.50,248.00) scale(1,1.040)" fill="#000" stroke="#000"><text x="-33.04 -22.02 -11.01" y="0.00" font-size="19.80">300</text></g>
<g transform="translate(85.50,204.50) scale(1,1.040)" fill="#000" stroke="#000"><text x="-33.04 -22.02 -11.01" y="0.00" font-size="19.80">400</text></g>
<g transform="translate(85.50,161.00) scale(1,1.040)" fill="#000" stroke="#000"><text x="-33.04 -22.02 -11.01" y="0.00" font-size="19.80">500</text></g>
<g transform="translate(85.50,117.50) scale(1,1.040)" fill="#000" stroke="#000"><text x="-33.04 -22.02 -11.01" y="0.00" font-size="19.80">600</text></g>
<g transform="translate(85.50,74.00) scale(1,1.040)" fill="#000" stroke="#000"><text x="-33.04 -22.02 -11.01" y="0.00" font-size="19.80">700</text></g>
<g transform="translate(85.50,30.50) scale(1,1.040)" fill="#000" stroke="#000"><text x="-33.04 -22.02 -11.01" y="0.00" font-size="19.80">800</text></g>
<g transform="translate(214.37,398.50) scale(1,1.040)" fill="#000" stroke="#000"><path d="M9.69,0.00 L7.95,0.00 L7.95,-10.66 Q7.32,-10.08 6.30,-9.51 Q5.28,-8.93 4.47,-8.64 L4.47,-10.26 Q5.93,-10.92 7.02,-11.86 Q8.12,-12.80 8.57,-13.68 L9.69,-13.68 Z" stroke-width="0.1"/><text x="-13.76 -2.75" y="0.00" font-size="19.80">0.</text></g>
<g transform="translate(377.70,398.50) scale(1,1.040)" fill="#000" stroke="#000"><path d="M1.44,0.00 L-0.30,0.00 L-0.30,-10.66 Q-0.93,-10.08 -1.95,-9.51 Q-2.97,-8.93 -3.79,-8.64 L-3.79,-10.26 Q-2.33,-10.92 -1.23,-11.86 Q-0.14,-12.80 0.31,-13.68 L1.44,-13.68 Z" stroke-width="0.1"/></g>
<g transform="translate(541.03,398.50) scale(1,1.040)" fill="#000" stroke="#000"><path d="M-4.07,0.00 L-5.81,0.00 L-5.81,-10.66 Q-6.44,-10.08 -7.46,-9.51 Q-8.48,-8.93 -9.29,-8.64 L-9.29,-10.26 Q-7.83,-10.92 -6.74,-11.86 Q-5.65,-12.80 -5.19,-13.68 L-4.07,-13.68 Z" stroke-width="0.1"/><text x="0.00" y="0.00" font-size="19.80">0</text></g>
<g transform="translate(342.00,427.60) scale(1,1.040)" fill="#000" stroke="#000"><text x="-37.41 -27.51 -22.01 -11.00 -5.50 11.00 22.01 31.91" y="0.00" font-size="19.80">k[h/Mpc]</text></g>
<g transform="translate(22.70,198.75) rotate(-90) scale(1,1.040)" fill="#000" stroke="#000"><text x="-96.11" y="0.00" font-size="19.80">k</text><text x="-86.61" y="-10.20" font-size="15.76">2</text><text x="-77.44 -69.74" y="0.00" font-size="19.80">*P</text><text x="-56.53 -47.77" y="5.70" font-size="15.76">nl</text><text x="-37.76 -31.17 -21.27 -15.77 -5.87 0.72 6.22 12.82" y="0.00" font-size="19.80">(z,k)[(h</text><path d="M34.60,-10.20 L33.22,-10.20 L33.22,-18.68 Q32.72,-18.22 31.91,-17.77 Q31.09,-17.31 30.45,-17.08 L30.45,-18.37 Q31.61,-18.89 32.48,-19.64 Q33.35,-20.38 33.71,-21.09 L34.60,-21.09 Z" stroke-width="0.1"/><text x="23.83" y="-10.20" font-size="15.76">-</text><text x="37.84 54.34 65.35 75.25" y="0.00" font-size="19.80">Mpc)</text><text x="81.84" y="-10.20" font-size="15.76">3</text><text x="90.61" y="0.00" font-size="19.80">]</text></g>
<g transform="translate(162.50,74.00) scale(1,1.040)" fill="#ffa500" stroke="#ffa500"><text x="0.00 9.90 21.46 32.47 37.98" y="0.00" font-size="19.80">z=0.0</text></g>
<g transform="translate(162.50,95.80) scale(1,1.040)" fill="#00ff00" stroke="#00ff00"><path d="M44.92,0.00 L43.18,0.00 L43.18,-10.66 Q42.55,-10.08 41.53,-9.51 Q40.51,-8.93 39.70,-8.64 L39.70,-10.26 Q41.16,-10.92 42.25,-11.86 Q43.34,-12.80 43.80,-13.68 L44.92,-13.68 Z" stroke-width="0.1"/><text x="0.00 9.90 21.46 32.47" y="0.00" font-size="19.80">z=0.</text></g>
<g transform="translate(162.50,117.60) scale(1,1.040)" fill="#0000ff" stroke="#0000ff"><text x="0.00 9.90 21.46 32.47 37.98" y="0.00" font-size="19.80">z=0.5</text></g>
<g transform="translate(162.50,139.40) scale(1,1.040)" fill="#ff0000" stroke="#ff0000"><path d="M28.40,0.00 L26.66,0.00 L26.66,-10.66 Q26.04,-10.08 25.02,-9.51 Q24.00,-8.93 23.18,-8.64 L23.18,-10.26 Q24.64,-10.92 25.74,-11.86 Q26.83,-12.80 27.28,-13.68 L28.40,-13.68 Z" stroke-width="0.1"/><text x="0.00 9.90 32.47 37.98" y="0.00" font-size="19.80">z=.0</text></g>
</g>
</svg>
</body></html>
